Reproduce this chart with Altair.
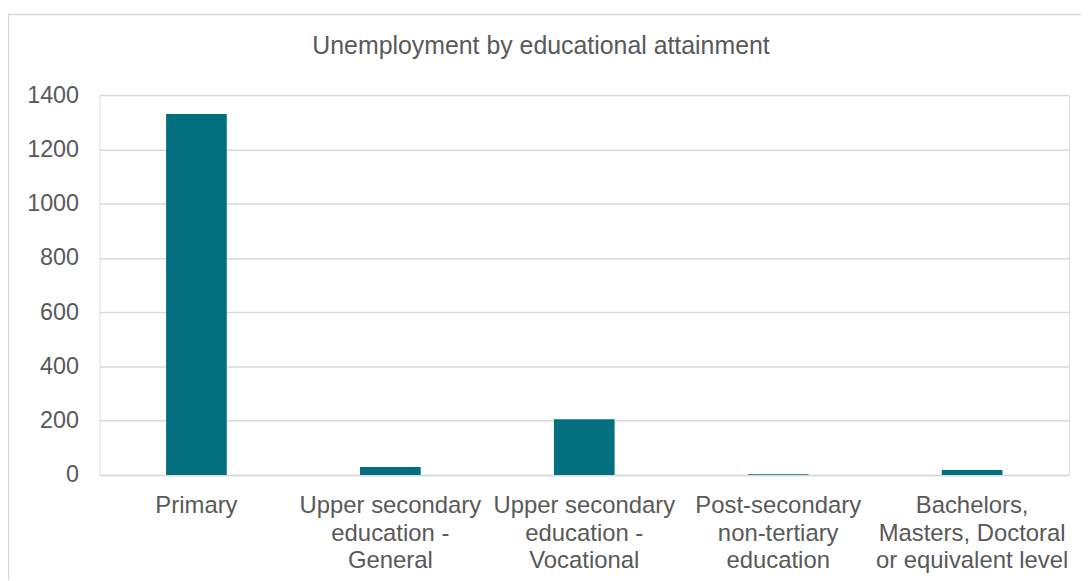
import altair as alt
import pandas as pd

categories = [
    "Primary",
    "Upper secondary education - General",
    "Upper secondary education - Vocational",
    "Post-secondary non-tertiary education",
    "Bachelors, Masters, Doctoral or equivalent level",
]
label_lines = [
    ["Primary"],
    ["Upper secondary", "education -", "General"],
    ["Upper secondary", "education -", "Vocational"],
    ["Post-secondary", "non-tertiary", "education"],
    ["Bachelors,", "Masters, Doctoral", "or equivalent level"],
]
values = [1330, 29, 205, 3, 18]
y_ticks = [0, 200, 400, 600, 800, 1000, 1200, 1400]
title_text = "Unemployment by educational attainment"

df = pd.DataFrame({"category": categories, "value": values})

# build label expression from the label lines
parts = []
for c, lines in zip(categories, label_lines):
    arr = "[" + ",".join("'" + l + "'" for l in lines) + "]"
    parts.append(f"datum.label == '{c}' ? {arr}")
label_expr = " : ".join(parts) + " : datum.label"

FONT = "Liberation Sans"
GRID = "#D9D9D9"
TXT = "#595959"

bars = alt.Chart(df).mark_bar(color="#03707F").encode(
    x=alt.X(
        "category:N",
        sort=categories,
        title=None,
        scale=alt.Scale(paddingInner=0.687, paddingOuter=0.3435),
        axis=alt.Axis(
            labelAngle=0,
            labelExpr=label_expr,
            labelFont=FONT,
            labelFontSize=24,
            labelColor=TXT,
            labelLineHeight=27.5,
            labelPadding=19,
            labelBaseline="top",
            labelLimit=400,
            ticks=False,
            domainColor=GRID,
            domainWidth=1.5,
            grid=False,
        ),
    ),
    y=alt.Y(
        "value:Q",
        title=None,
        scale=alt.Scale(domain=[0, 1400], nice=False),
        axis=alt.Axis(
            values=y_ticks,
            format="d",
            labelFont=FONT,
            labelFontSize=23.5,
            labelColor=TXT,
            labelPadding=21,
            ticks=False,
            domain=False,
            gridColor=GRID,
            gridWidth=1.5,
        ),
    ),
)

border_data = alt.Data(values=[{"k": 1}])
left_border = alt.Chart(border_data).mark_rule(color=GRID, strokeWidth=1.5).encode(
    x=alt.value(-91.5), y=alt.value(-81), y2=alt.value(600)
)
top_border = alt.Chart(border_data).mark_rule(color=GRID, strokeWidth=1.5).encode(
    x=alt.value(-92), x2=alt.value(1100), y=alt.value(-81)
)
title_mark = alt.Chart(alt.Data(values=[{"t": title_text}])).mark_text(
    font=FONT, fontSize=25, color=TXT, align="center", baseline="middle"
).encode(
    text="t:N", x=alt.value(444), y=alt.value(-49)
)

chart = (
    alt.layer(left_border, top_border, title_mark, bars)
    .properties(
        width=975,
        height=382,
        autosize=alt.AutoSizeParams(type="none"),
        padding={"left": 92, "top": 86, "right": 12, "bottom": 104},
    )
    .configure_view(strokeWidth=0, stroke="transparent")
    .configure(background="white")
)

chart.save("out.html", embed_options={"renderer": "svg", "actions": False})
